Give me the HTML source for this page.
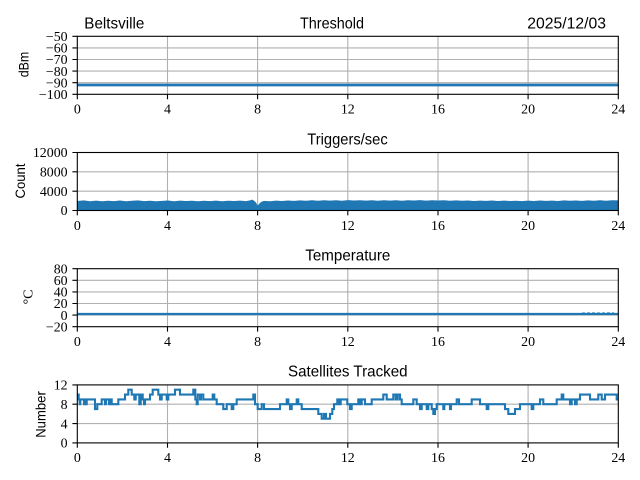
<!DOCTYPE html>
<html><head><meta charset="utf-8"><style>
html,body{margin:0;padding:0;background:#fff;}
svg{display:block;}
.t{font-family:"Liberation Serif",serif;font-size:13.9px;fill:#000;}
.s{font-family:"Liberation Sans",sans-serif;fill:#000;}
.g{stroke:#b0b0b0;stroke-width:1.1;fill:none;}
.k{stroke:#000;stroke-width:1.1;fill:none;}
</style></head><body>
<svg width="640" height="480" viewBox="0 0 640 480" xmlns="http://www.w3.org/2000/svg">
<rect width="640" height="480" fill="#fff"/>

<!-- ========== Plot 1: Threshold ========== -->
<g>
<path class="g" d="M167.5 36.3V94.3M257.6 36.3V94.3M347.8 36.3V94.3M438 36.3V94.3M528.1 36.3V94.3M77.3 82.7H618.3M77.3 71.1H618.3M77.3 59.5H618.3M77.3 47.9H618.3"/>
<line x1="77.3" y1="85" x2="618.3" y2="85" stroke="#1f77b4" stroke-width="2.8"/>
<rect x="77.3" y="36.3" width="541" height="58" class="k"/>
<path class="k" d="M72.4 94.3H77.3M72.4 82.7H77.3M72.4 71.1H77.3M72.4 59.5H77.3M72.4 47.9H77.3M72.4 36.3H77.3M77.3 94.3v4.9M167.5 94.3v4.9M257.6 94.3v4.9M347.8 94.3v4.9M438 94.3v4.9M528.1 94.3v4.9M618.3 94.3v4.9"/>
<g class="t" text-anchor="end">
<text x="67.6" y="99">−100</text><text x="67.6" y="87.4">−90</text><text x="67.6" y="75.8">−80</text><text x="67.6" y="64.2">−70</text><text x="67.6" y="52.6">−60</text><text x="67.6" y="41">−50</text>
</g>
<g class="t" text-anchor="middle">
<text x="77.3" y="113.6">0</text><text x="167.5" y="113.6">4</text><text x="257.6" y="113.6">8</text><text x="347.8" y="113.6">12</text><text x="438" y="113.6">16</text><text x="528.1" y="113.6">20</text><text x="618.3" y="113.6">24</text>
</g>
<text class="s" x="84.3" y="28.3" font-size="16" textLength="60" lengthAdjust="spacingAndGlyphs">Beltsville</text>
<text class="s" x="300" y="28.3" font-size="16" textLength="64" lengthAdjust="spacingAndGlyphs">Threshold</text>
<text class="s" x="527.3" y="28.3" font-size="16" textLength="78.7" lengthAdjust="spacingAndGlyphs">2025/12/03</text>
<text class="s" font-size="13.9" transform="translate(28.3,64.5) rotate(-90)" text-anchor="middle" textLength="25.6" lengthAdjust="spacingAndGlyphs">dBm</text>
</g>

<!-- ========== Plot 2: Triggers/sec ========== -->
<g>
<path class="g" d="M167.5 152.5V210.5M257.6 152.5V210.5M347.8 152.5V210.5M438 152.5V210.5M528.1 152.5V210.5M77.3 191.17H618.3M77.3 171.83H618.3"/>
<polygon fill="#1f77b4" points="77.3,210.5 77.3,201 84,200.4 90,201.2 96,200.6 102,201.3 108,200.7 114,201.1 120,200.5 126,201.2 132,200.8 138,200.4 144,201.1 150,200.7 156,201.3 162,200.9 168,200.5 174,201.2 180,200.6 186,201 192,200.8 198,201.3 204,200.7 210,201.1 216,200.6 222,201.2 228,200.8 234,201 240,200.6 246,201.1 250,200.4 252,199.6 254,200.6 256,202.5 257.6,205.5 259,204 261,202 264,200.9 270,201.2 276,200.6 282,201 288,200.5 294,200.9 300,200.4 306,200.8 312,200.3 318,200.7 324,200.2 330,200.6 336,200.3 342,200.7 348,200.1 354,200.5 360,200.2 366,200.6 372,200.3 378,200.7 384,200.2 390,200.6 396,200.3 402,200.7 408,200.2 414,200.5 420,200.1 426,200.6 432,200.3 438,200.5 444,200.2 450,200.7 456,200.4 462,200.8 468,200.5 474,201 480,200.6 486,200.9 492,200.5 498,201 504,200.6 510,201 516,200.7 522,201.1 528,200.6 534,201 540,200.5 546,200.9 552,200.6 558,201 564,200.4 570,200.8 576,200.5 582,200.9 588,200.4 594,200.8 600,200.3 606,200.7 612,200.2 618.3,200.4 618.3,210.5"/>
<rect x="77.3" y="152.5" width="541" height="58" class="k"/>
<path class="k" d="M72.4 210.5H77.3M72.4 191.17H77.3M72.4 171.83H77.3M72.4 152.5H77.3M77.3 210.5v4.9M167.5 210.5v4.9M257.6 210.5v4.9M347.8 210.5v4.9M438 210.5v4.9M528.1 210.5v4.9M618.3 210.5v4.9"/>
<g class="t" text-anchor="end">
<text x="67.6" y="215.2">0</text><text x="67.6" y="195.9">4000</text><text x="67.6" y="176.5">8000</text><text x="67.6" y="157.2">12000</text>
</g>
<g class="t" text-anchor="middle">
<text x="77.3" y="229.8">0</text><text x="167.5" y="229.8">4</text><text x="257.6" y="229.8">8</text><text x="347.8" y="229.8">12</text><text x="438" y="229.8">16</text><text x="528.1" y="229.8">20</text><text x="618.3" y="229.8">24</text>
</g>
<text class="s" x="347.5" y="144.5" font-size="16" text-anchor="middle" textLength="80.4" lengthAdjust="spacingAndGlyphs">Triggers/sec</text>
<text class="s" font-size="13.9" transform="translate(25,181) rotate(-90)" text-anchor="middle" textLength="35" lengthAdjust="spacingAndGlyphs">Count</text>
</g>

<!-- ========== Plot 3: Temperature ========== -->
<g>
<path class="g" d="M167.5 268.7V326.7M257.6 268.7V326.7M347.8 268.7V326.7M438 268.7V326.7M528.1 268.7V326.7M77.3 315.1H618.3M77.3 303.5H618.3M77.3 291.9H618.3M77.3 280.3H618.3"/>
<line x1="77.3" y1="314" x2="618.3" y2="314" stroke="#1f77b4" stroke-width="2.2"/>
<polyline fill="none" stroke="#1f77b4" stroke-opacity="0.6" stroke-width="0.9" stroke-dasharray="3 2" points="582,312.7 590,312.4 600,312.7 610,312.4 614,312.6"/>
<rect x="77.3" y="268.7" width="541" height="58" class="k"/>
<path class="k" d="M72.4 326.7H77.3M72.4 315.1H77.3M72.4 303.5H77.3M72.4 291.9H77.3M72.4 280.3H77.3M72.4 268.7H77.3M77.3 326.7v4.9M167.5 326.7v4.9M257.6 326.7v4.9M347.8 326.7v4.9M438 326.7v4.9M528.1 326.7v4.9M618.3 326.7v4.9"/>
<g class="t" text-anchor="end">
<text x="67.6" y="331.4">−20</text><text x="67.6" y="319.8">0</text><text x="67.6" y="308.2">20</text><text x="67.6" y="296.6">40</text><text x="67.6" y="285">60</text><text x="67.6" y="273.4">80</text>
</g>
<g class="t" text-anchor="middle">
<text x="77.3" y="346">0</text><text x="167.5" y="346">4</text><text x="257.6" y="346">8</text><text x="347.8" y="346">12</text><text x="438" y="346">16</text><text x="528.1" y="346">20</text><text x="618.3" y="346">24</text>
</g>
<text class="s" x="347.8" y="260.5" font-size="16" text-anchor="middle" textLength="85" lengthAdjust="spacingAndGlyphs">Temperature</text>
<text class="t" transform="translate(32.7,297) rotate(-90)" text-anchor="middle">°C</text>
</g>

<!-- ========== Plot 4: Satellites Tracked ========== -->
<g>
<path class="g" d="M167.5 384.9V442.9M257.6 384.9V442.9M347.8 384.9V442.9M438 384.9V442.9M528.1 384.9V442.9M77.3 423.57H618.3M77.3 404.23H618.3"/>
<path fill="none" stroke="#1f77b4" stroke-width="2.1" stroke-linejoin="miter" d="M77.3 394.6H78.7V399.4H79.7V404.2H80.3V399.4H84V404.2H85V399.4H85.7V404.2H86.7V399.4H95V409.1H97.3V404.2H101.7V399.4H105V404.2H106V399.4H109V404.2H110V399.4H111.7V404.2H118.3V399.4H125V394.6H128.3V389.7H131.7V394.6H134.3V399.4H135.7V394.6H139.3V404.2H140.7V394.6H142.7V399.4H144V404.2H145V399.4H150V394.6H152.7V389.7H158.3V394.6H160V399.4H161.7V394.6H166.7V399.4H168.3V394.6H175V389.7H180V394.6H193.3V389.7H195.3V399.4H196.7V404.2H197.7V394.6H200V399.4H201V394.6H203.3V399.4H212.7V394.6H214.3V399.4H216.7V404.2H223.3V409.1H226.7V404.2H231.7V409.1H233.3V404.2H236.7V399.4H253.3V394.6H255V404.2H257.7V409.1H261.7V404.2H264V409.1H280V404.2H286.7V399.4H288.3V404.2H290V409.1H291.7V404.2H296.7V399.4H298.3V404.2H301.7V409.1H318.3V413.9H321.7V418.7H324V413.9H326V418.7H330V413.9H332.3V409.1H334V404.2H337.3V399.4H339.3V404.2H340.7V399.4H347.3V404.2H350V409.1H351.7V404.2H358.3V399.4H360V404.2H361.7V399.4H365V404.2H371.7V399.4H383.3V394.6H386.7V399.4H393.3V394.6H395.7V399.4H397.7V394.6H400V399.4H401.7V404.2H413.3V399.4H416.7V404.2H420V409.1H421.7V404.2H426.7V409.1H428.3V404.2H431.7V409.1H433.3V413.9H435V409.1H436.7V404.2H443.3V409.1H444.3V404.2H450V409.1H451V404.2H456.7V399.4H459V404.2H471.7V399.4H480V404.2H486.7V409.1H488.3V404.2H505V409.1H508.3V413.9H515V409.1H520V404.2H531.7V409.1H533.3V404.2H540V399.4H543.3V404.2H556.7V399.4H561.7V394.6H563.3V399.4H570V404.2H571.7V399.4H575V404.2H576.7V399.4H580V394.6H590V399.4H598.3V394.6H601.7V399.4H605V394.6H616.7V399.4H618.3"/>
<rect x="77.3" y="384.9" width="541" height="58" class="k"/>
<path class="k" d="M72.4 442.9H77.3M72.4 423.57H77.3M72.4 404.23H77.3M72.4 384.9H77.3M77.3 442.9v4.9M167.5 442.9v4.9M257.6 442.9v4.9M347.8 442.9v4.9M438 442.9v4.9M528.1 442.9v4.9M618.3 442.9v4.9"/>
<g class="t" text-anchor="end">
<text x="67.6" y="447.6">0</text><text x="67.6" y="428.3">4</text><text x="67.6" y="408.9">8</text><text x="67.6" y="389.6">12</text>
</g>
<g class="t" text-anchor="middle">
<text x="77.3" y="462.2">0</text><text x="167.5" y="462.2">4</text><text x="257.6" y="462.2">8</text><text x="347.8" y="462.2">12</text><text x="438" y="462.2">16</text><text x="528.1" y="462.2">20</text><text x="618.3" y="462.2">24</text>
</g>
<text class="s" x="347.8" y="376.5" font-size="16" text-anchor="middle" textLength="119.6" lengthAdjust="spacingAndGlyphs">Satellites Tracked</text>
<text class="s" font-size="13.9" transform="translate(45.5,414.5) rotate(-90)" text-anchor="middle" textLength="46.6" lengthAdjust="spacingAndGlyphs">Number</text>
</g>
</svg>
</body></html>
